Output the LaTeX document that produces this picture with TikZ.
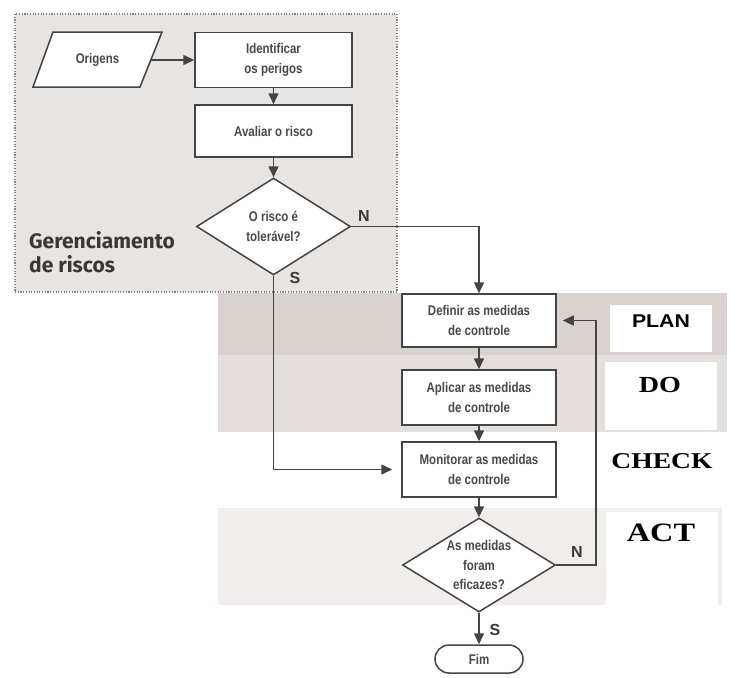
\documentclass[tikz,border=0pt]{standalone}
\usepackage{fontspec}
\usetikzlibrary{arrows.meta,shapes.geometric}
\newfontfamily\condfont[FakeStretch=0.82]{Liberation Sans}
\newfontfamily\gerfont{Fira Sans}
\newfontfamily\labfont{Liberation Sans}
\newfontfamily\plainsans[FakeStretch=1.15]{Liberation Sans}
\newfontfamily\timesfont[FakeStretch=1.22]{Liberation Serif}
\definecolor{ink}{HTML}{444444}
\definecolor{txt}{HTML}{484848}
\definecolor{dark}{HTML}{383838}
\definecolor{paper}{RGB}{232,228,226}
\definecolor{bandA}{RGB}{217,210,207}
\definecolor{bandB}{RGB}{228,223,221}
\definecolor{bandD}{RGB}{240,237,236}
\definecolor{framegray}{HTML}{858585}
\tikzset{
  flowbox/.style={draw=ink, line width=1.5pt, fill=white, rectangle, inner sep=0pt,
    align=center, text=txt, font=\condfont\bfseries\fontsize{14}{20}\selectfont},
  decide/.style={draw=ink, line width=1.5pt, fill=white, diamond, aspect=1.6, inner sep=0pt,
    align=center, text=txt, font=\condfont\bfseries\fontsize{14}{19.5}\selectfont},
  inputlbl/.style={inner sep=0pt, text=txt, font=\condfont\bfseries\fontsize{14}{20}\selectfont},
  inputshape/.style={draw=ink, line width=1.5pt, fill=white, line join=miter},
  endbox/.style={draw=ink, line width=1.5pt, fill=white, rectangle, rounded corners=14pt,
    inner sep=0pt, text=txt, font=\condfont\bfseries\fontsize{14}{20}\selectfont},
  flowarrow/.style={draw=ink, line width=1.5pt, -{Triangle[length=11pt,width=10pt]}},
  branchlbl/.style={text=dark, font=\labfont\bfseries\fontsize{16}{16}\selectfont, inner sep=0pt},
  gerlbl/.style={text=dark, anchor=base west, inner sep=0pt, font=\gerfont\bfseries\fontsize{21}{24}\selectfont},
  dottedframe/.style={draw=framegray, line width=1.1pt, dash pattern=on 1.1pt off 1.6pt},
}
\begin{document}
\begin{tikzpicture}[x=1pt,y=-1pt]
\useasboundingbox (0,0) rectangle (737,678);
\fill[white] (0,0) rectangle (737,678);
% background shading of the scan
\fill[paper] (15,14) rectangle (397,292);
\fill[bandA] (218,293) rectangle (727,355);
\fill[bandB] (218,355) rectangle (727,432);
\fill[bandD] (218,508) rectangle (722,605);
\fill[white] (610,305) rectangle (712,352);
\fill[white] (605,362) rectangle (717,430);
\fill[white] (606,512) rectangle (718,605);
\draw[dottedframe] (15,14) rectangle (397,292);

% upper column
\draw[inputshape] (33,87) -- (140,87) -- (162,32) -- (53,32) -- cycle;
\node[inputlbl] (orig) at (97.5,60) {Origens};
\coordinate (origout) at (151,60);
\node[flowbox, minimum width=157pt, minimum height=55pt] (ident) at (273.5,60) {Identificar\\os perigos};
\node[flowbox, minimum width=157pt, minimum height=52pt] (aval) at (273.5,131) {Avaliar o risco};
\node[decide, minimum width=154pt, minimum height=97pt] (tol) at (273.5,226.5) {O risco é\\tolerável?};

% lower column
\node[flowbox, minimum width=154pt, minimum height=53pt] (def) at (479,320.5) {Definir as medidas\\de controle};
\node[flowbox, minimum width=154pt, minimum height=55pt] (apl) at (479,397.5) {Aplicar as medidas\\de controle};
\node[flowbox, minimum width=154pt, minimum height=55pt] (mon) at (479,469.5) {Monitorar as medidas\\de controle};
\node[decide, minimum width=153pt, minimum height=94pt] (eff) at (479,565) {As medidas\\foram\\eficazes?};
\node[endbox, minimum width=88pt, minimum height=28pt] (fim) at (479,659) {Fim};
\coordinate (loop) at (596,565);

% labels
\node[gerlbl] (ger1) at (29,248) {Gerenciamento};
\node[gerlbl] (ger2) at (29,272) {de riscos};
\node[branchlbl] (n1) at (364,216) {N};
\node[branchlbl] (s1) at (295,278) {S};
\node[branchlbl] (n2) at (577,552) {N};
\node[branchlbl] (s2) at (495,630) {S};
\node[text=black, inner sep=0pt, font=\plainsans\bfseries\fontsize{18.5}{20}\selectfont] (plan) at (661,321) {PLAN};
\node[text=black, inner sep=0pt, font=\timesfont\bfseries\fontsize{23}{24}\selectfont] (do) at (660,385) {DO};
\node[text=black, inner sep=0pt, font=\timesfont\bfseries\fontsize{22.6}{24}\selectfont] (check) at (662,461) {CHECK};
\node[text=black, inner sep=0pt, font=\timesfont\bfseries\fontsize{26.5}{28}\selectfont] (act) at (661,533) {ACT};

% connectors
\draw[flowarrow] (origout) -- (ident.west);
\draw[flowarrow] (ident) -- (aval);
\draw[flowarrow] (aval) -- (tol);
\draw[flowarrow] (tol.east) -| (def.north);
\draw[flowarrow, shorten >=9pt] (tol.south) |- (mon.west);
\draw[flowarrow] (def) -- (apl);
\draw[flowarrow] (apl) -- (mon);
\draw[flowarrow] (mon) -- (eff);
\draw[flowarrow] (eff) -- (fim);
\draw[flowarrow, shorten >=6pt] (eff.east) -- (loop) |- (def.east);
\end{tikzpicture}
\end{document}
